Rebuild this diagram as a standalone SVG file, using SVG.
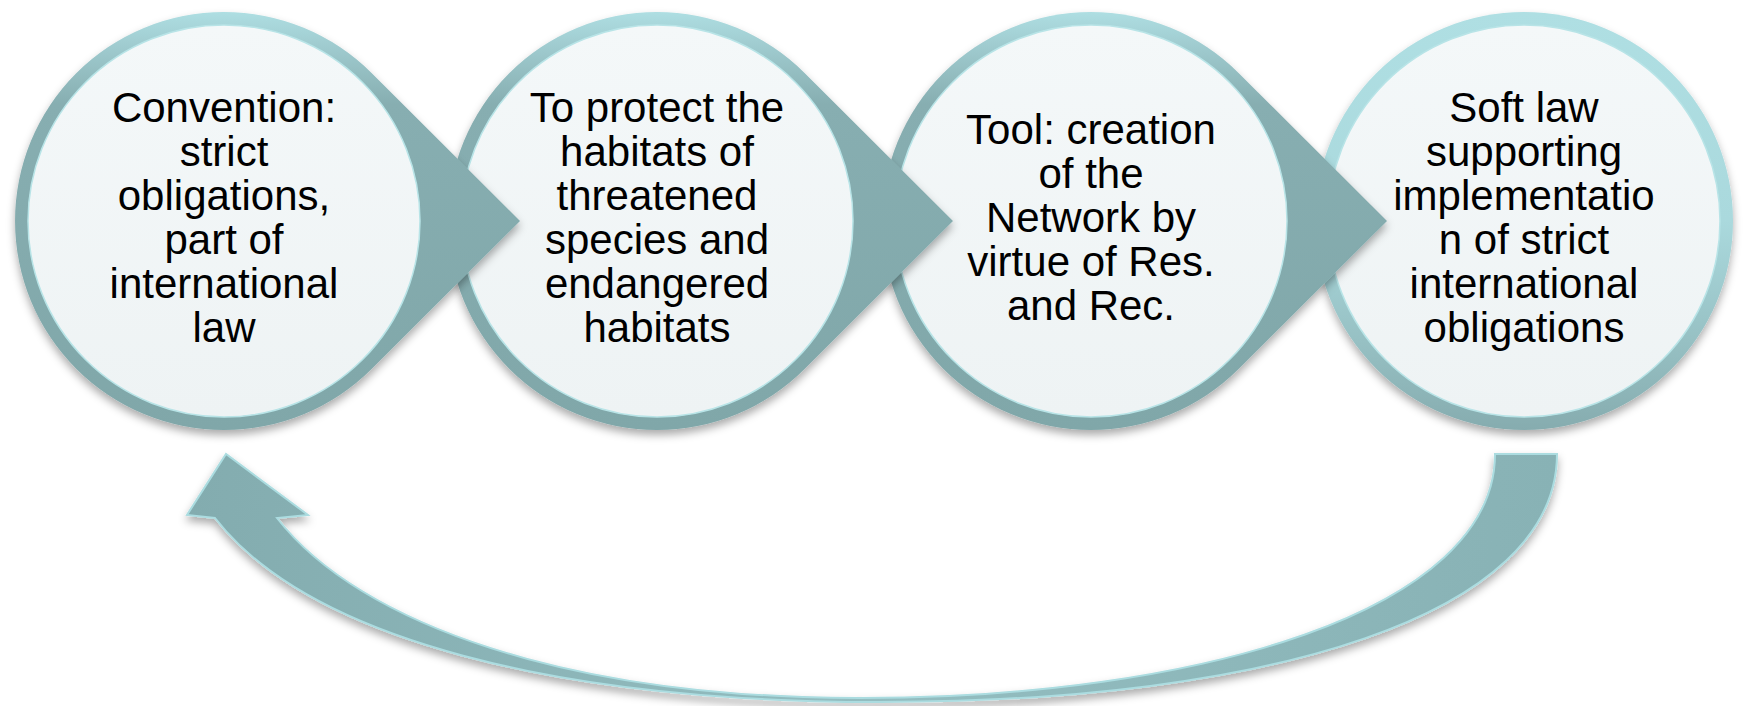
<svg xmlns="http://www.w3.org/2000/svg" width="1743" height="706" viewBox="0 0 1743 706">
<defs>
<linearGradient id="ringA" gradientUnits="userSpaceOnUse" x1="0" y1="12" x2="0" y2="430">
<stop offset="0" stop-color="#AEDEE2"/>
<stop offset="0.1" stop-color="#9CC7CB"/>
<stop offset="0.22" stop-color="#87AEB1"/>
<stop offset="1" stop-color="#80A7A9"/>
</linearGradient>
<linearGradient id="ringB" gradientUnits="userSpaceOnUse" x1="0" y1="12" x2="0" y2="430">
<stop offset="0" stop-color="#AFDFE3"/>
<stop offset="0.5" stop-color="#AAD9DD"/>
<stop offset="0.78" stop-color="#97C1C4"/>
<stop offset="1" stop-color="#86ACAF"/>
</linearGradient>
<linearGradient id="fillIn" x1="0" y1="0" x2="0" y2="1">
<stop offset="0" stop-color="#F4F8F9"/>
<stop offset="1" stop-color="#EEF3F4"/>
</linearGradient>
<linearGradient id="curveFill" gradientUnits="userSpaceOnUse" x1="187" y1="0" x2="1557" y2="0">
<stop offset="0" stop-color="#83ACAF"/>
<stop offset="0.5" stop-color="#93BDC0"/>
<stop offset="1" stop-color="#88B2B5"/>
</linearGradient>
<filter id="shadow" x="-10%" y="-10%" width="120%" height="130%">
<feDropShadow dx="0" dy="5" stdDeviation="4" flood-color="#000" flood-opacity="0.33"/>
</filter>
<style>
.inner{fill:url(#fillIn);stroke:#B8E4E7;stroke-width:1.5}
.label{font-family:"Liberation Sans",Arial,sans-serif;font-size:42px;fill:#000;text-anchor:middle}
.curve{fill:url(#curveFill);stroke:#ABDCE0;stroke-width:2;stroke-linejoin:miter}
</style>
</defs>

<g id="connectors">
<path class="curve" filter="url(#shadow)" d="M1495,454 L1557,454 C1557,615 1270,702 880,702 C560,702 310,640 215,518 L187,515 L226,454 L308,515 L277,518 C360,625 570,698 860,698 C1200,698 1495,610 1495,454 Z"/>
</g>

<g id="node4">
<circle cx="1524" cy="221" r="209" fill="url(#ringB)" filter="url(#shadow)"/>
<circle class="inner" cx="1524" cy="221" r="196"/>
<text class="label"><tspan x="1524" y="122">Soft law</tspan><tspan x="1524" y="166">supporting</tspan><tspan x="1524" y="210">implementatio</tspan><tspan x="1524" y="254">n of strict</tspan><tspan x="1524" y="298">international</tspan><tspan x="1524" y="342">obligations</tspan></text>
</g>

<g id="node3">
<path d="M1387,221 L1238.6,73 A209,209 0 1 0 1238.6,369 Z" fill="url(#ringA)" filter="url(#shadow)"/>
<circle class="inner" cx="1091" cy="221" r="196"/>
<text class="label"><tspan x="1091" y="144">Tool: creation</tspan><tspan x="1091" y="188">of the</tspan><tspan x="1091" y="232">Network by</tspan><tspan x="1091" y="276">virtue of Res.</tspan><tspan x="1091" y="320">and Rec.</tspan></text>
</g>

<g id="node2">
<path d="M953,221 L804.6,73 A209,209 0 1 0 804.6,369 Z" fill="url(#ringA)" filter="url(#shadow)"/>
<circle class="inner" cx="657" cy="221" r="196"/>
<text class="label"><tspan x="657" y="122">To protect the</tspan><tspan x="657" y="166">habitats of</tspan><tspan x="657" y="210">threatened</tspan><tspan x="657" y="254">species and</tspan><tspan x="657" y="298">endangered</tspan><tspan x="657" y="342">habitats</tspan></text>
</g>

<g id="node1">
<path d="M520,221 L371.6,73 A209,209 0 1 0 371.6,369 Z" fill="url(#ringA)" filter="url(#shadow)"/>
<circle class="inner" cx="224" cy="221" r="196"/>
<text class="label"><tspan x="224" y="122">Convention:</tspan><tspan x="224" y="166">strict</tspan><tspan x="224" y="210">obligations,</tspan><tspan x="224" y="254">part of</tspan><tspan x="224" y="298">international</tspan><tspan x="224" y="342">law</tspan></text>
</g>
</svg>
